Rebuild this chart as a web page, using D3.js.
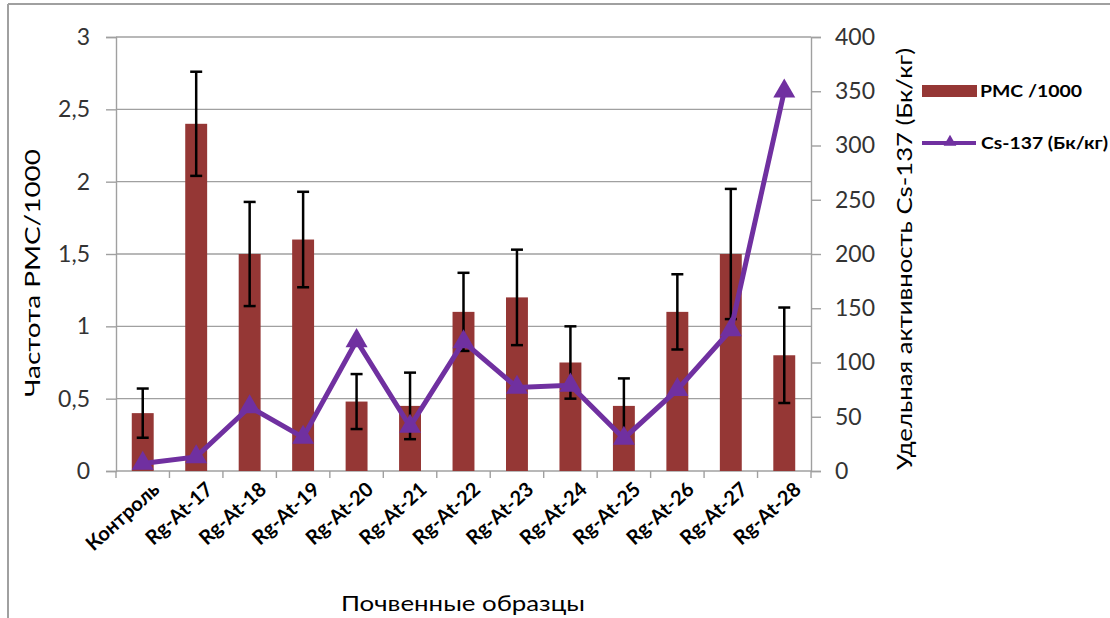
<!DOCTYPE html>
<html><head><meta charset="utf-8">
<script src="https://cdn.jsdelivr.net/npm/d3@7"></script>
<style>
body{margin:0;background:#fff;}
svg{display:block;font-family:Lato,"Open Sans",sans-serif;}
</style></head>
<body><svg id="c" width="1110" height="618"></svg>
<script>
const categories = ["Контроль","Rg-At-17","Rg-At-18","Rg-At-19","Rg-At-20","Rg-At-21","Rg-At-22","Rg-At-23","Rg-At-24","Rg-At-25","Rg-At-26","Rg-At-27","Rg-At-28"];
const pmcValues = [0.40, 2.40, 1.50, 1.60, 0.48, 0.45, 1.10, 1.20, 0.75, 0.45, 1.10, 1.50, 0.80];
const pmcErrors = [0.17, 0.36, 0.36, 0.33, 0.19, 0.23, 0.27, 0.33, 0.25, 0.19, 0.26, 0.45, 0.33];
const csValues = [7, 13, 59, 31, 120, 41, 119, 77, 79, 30, 75, 130, 350];
const leftTicks = [0, 0.5, 1, 1.5, 2, 2.5, 3];
const rightTicks = [0, 50, 100, 150, 200, 250, 300, 350, 400];

const svg = d3.select("#c");
const L = 116, R = 811, T = 37, B = 471;
const barColor = "#953735", lineColor = "#7030a0", grid = "#a0a0a0", txt = "#333";

// frame
svg.append("line").attr("x1",8).attr("x2",8).attr("y1",4).attr("y2",618).attr("stroke","#a0a0a0").attr("stroke-width",2);
svg.append("line").attr("x1",8).attr("x2",1110).attr("y1",4).attr("y2",4).attr("stroke","#a0a0a0").attr("stroke-width",2);

const x = d3.scaleBand().domain(categories).range([L, R]).paddingInner(0.59).paddingOuter(0.295);
const xb = d3.scaleBand().domain(categories).range([L, R]);
const yL = d3.scaleLinear().domain([0, 3]).range([B, T]);
const yR = d3.scaleLinear().domain([0, 400]).range([B, T]);

// gridlines
svg.append("g").selectAll("line").data(leftTicks.slice(1)).join("line")
  .attr("x1", L).attr("x2", R).attr("y1", d=>yL(d)).attr("y2", d=>yL(d))
  .attr("stroke", grid).attr("stroke-width", 1.4);

// left axis
const gL = svg.append("g").attr("transform",`translate(${L},0)`)
  .call(d3.axisLeft(yL).tickValues(leftTicks).tickSize(10).tickPadding(16).tickFormat(d=>String(d).replace(".",",")));
gL.select(".domain").attr("stroke", grid).attr("stroke-width",1.4);
gL.selectAll(".tick line").attr("stroke", grid).attr("stroke-width",1.4);
gL.selectAll("text").attr("font-size",23).attr("fill",txt).attr("font-family","Lato");

// right axis
const gR = svg.append("g").attr("transform",`translate(${R},0)`)
  .call(d3.axisRight(yR).tickValues(rightTicks).tickSize(10).tickPadding(14));
gR.select(".domain").attr("stroke", grid).attr("stroke-width",1.4);
gR.selectAll(".tick line").attr("stroke", grid).attr("stroke-width",1.4);
gR.selectAll("text").attr("font-size",23).attr("fill",txt).attr("font-family","Lato");

// bottom axis: ticks at category boundaries
svg.append("line").attr("x1",L).attr("x2",R).attr("y1",B).attr("y2",B).attr("stroke",grid).attr("stroke-width",1.4);
const bounds = categories.map(c=>xb(c)).concat([R]);
svg.append("g").selectAll("line").data(bounds).join("line")
  .attr("x1",d=>d).attr("x2",d=>d).attr("y1",B).attr("y2",B+7).attr("stroke",grid).attr("stroke-width",1.4);

// bars
svg.append("g").selectAll("rect").data(categories).join("rect")
  .attr("x", c=>x(c)).attr("width", x.bandwidth())
  .attr("y", (c,i)=>yL(pmcValues[i])).attr("height",(c,i)=>B-yL(pmcValues[i]))
  .attr("fill", barColor);

// error bars
const eg = svg.append("g").attr("stroke","#000").attr("stroke-width",2.5);
categories.forEach((c,i)=>{
  const cx = xb(c)+xb.bandwidth()/2;
  const y1 = yL(pmcValues[i]+pmcErrors[i]), y2 = yL(pmcValues[i]-pmcErrors[i]);
  eg.append("line").attr("x1",cx).attr("x2",cx).attr("y1",y1).attr("y2",y2);
  eg.append("line").attr("x1",cx-6).attr("x2",cx+6).attr("y1",y1).attr("y2",y1);
  eg.append("line").attr("x1",cx-6).attr("x2",cx+6).attr("y1",y2).attr("y2",y2);
});

// line
const line = d3.line().x((d,i)=>xb(categories[i])+xb.bandwidth()/2).y(d=>yR(d));
svg.append("path").datum(csValues).attr("d",line).attr("fill","none")
  .attr("stroke",lineColor).attr("stroke-width",5).attr("stroke-linejoin","miter");
const tri = d3.symbol().type(d3.symbolTriangle).size(210);
svg.append("g").selectAll("path").data(csValues).join("path")
  .attr("d", tri)
  .attr("transform",(d,i)=>`translate(${xb(categories[i])+xb.bandwidth()/2},${yR(d)})`)
  .attr("fill",lineColor);

// x labels
svg.append("g").selectAll("text").data(categories).join("text")
  .attr("transform", c=>`translate(${xb(c)+xb.bandwidth()/2+8},${B+9}) rotate(-42)`)
  .attr("text-anchor","end").attr("dy","0.75em")
  .attr("font-size",20).attr("font-weight","bold").attr("fill","#000").attr("font-family","Lato")
  .text(c=>c);

// axis titles
svg.append("text").attr("transform",`translate(40,273) rotate(-90)`)
  .attr("text-anchor","middle").attr("font-size",22).attr("fill","#000")
  .attr("textLength",248).attr("lengthAdjust","spacingAndGlyphs").text("Частота РМС/1000");
svg.append("text").attr("transform",`translate(912,259) rotate(-90)`)
  .attr("text-anchor","middle").attr("font-size",22).attr("fill","#000")
  .attr("textLength",422).attr("lengthAdjust","spacingAndGlyphs").text("Удельная активность Cs-137 (Бк/кг)");
svg.append("text").attr("x",463).attr("y",611).attr("text-anchor","middle")
  .attr("font-size",22).attr("fill","#000")
  .attr("textLength",244).attr("lengthAdjust","spacingAndGlyphs").text("Почвенные образцы");

// legend
const lg = svg.append("g");
lg.append("rect").attr("x",922).attr("y",85).attr("width",55).attr("height",12).attr("fill",barColor);
lg.append("text").attr("x",980).attr("y",97).attr("font-size",17).attr("font-weight","bold").attr("fill","#000")
  .attr("textLength",102).attr("lengthAdjust","spacingAndGlyphs").text("РМС /1000");
lg.append("line").attr("x1",922).attr("x2",976).attr("y1",143).attr("y2",143).attr("stroke",lineColor).attr("stroke-width",4);
lg.append("path").attr("d",d3.symbol().type(d3.symbolTriangle).size(70)).attr("transform","translate(950,142)").attr("fill",lineColor);
lg.append("text").attr("x",981).attr("y",149).attr("font-size",17).attr("font-weight","bold").attr("fill","#000")
  .attr("textLength",127).attr("lengthAdjust","spacingAndGlyphs").text("Cs-137 (Бк/кг)");
</script></body></html>
